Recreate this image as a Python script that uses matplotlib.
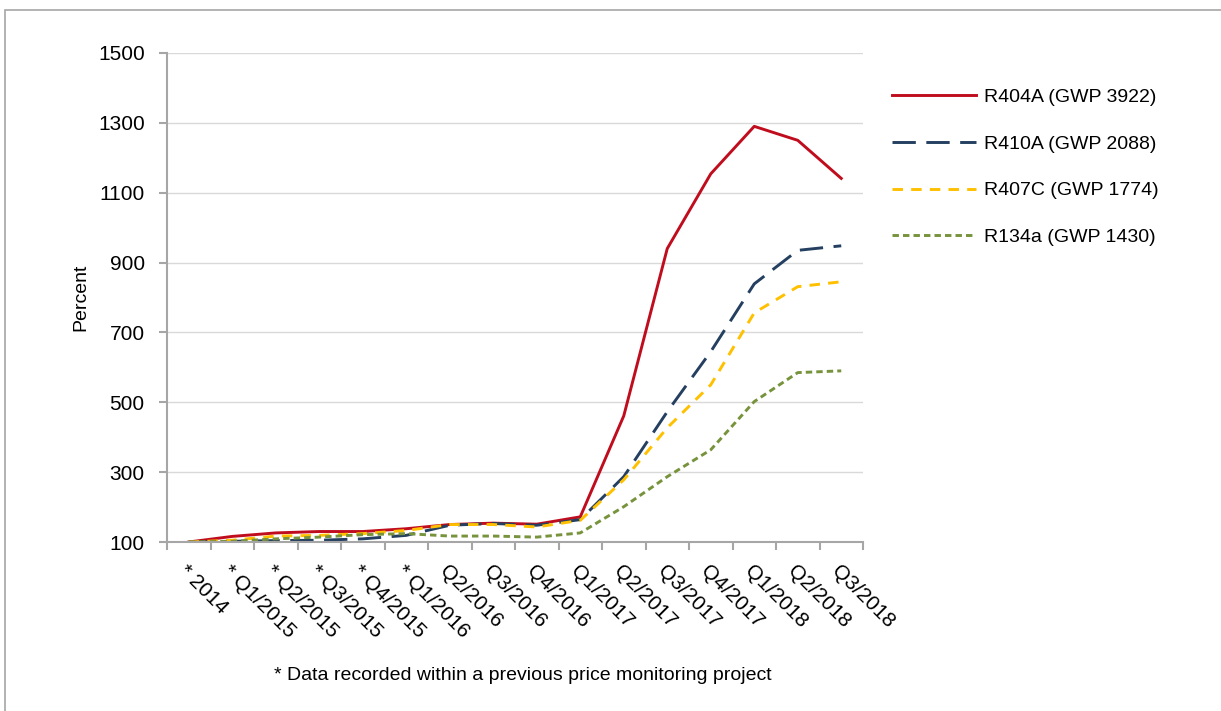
import matplotlib.pyplot as plt
from matplotlib.patches import Rectangle

plt.rcParams['font.family'] = ['Liberation Sans', 'DejaVu Sans']

quarters = ['* 2014', '* Q1/2015', '* Q2/2015', '* Q3/2015', '* Q4/2015', '* Q1/2016',
            'Q2/2016', 'Q3/2016', 'Q4/2016', 'Q1/2017', 'Q2/2017', 'Q3/2017',
            'Q4/2017', 'Q1/2018', 'Q2/2018', 'Q3/2018']
r404a = [100, 116, 126, 130, 130, 138, 150, 154, 151, 172, 461, 940, 1154, 1290, 1250, 1141]
r410a = [100, 102, 104, 105, 109, 119, 148, 153, 148, 164, 287, 473, 645, 839, 935, 948]
r407c = [100, 105, 117, 119, 124, 133, 150, 150, 143, 162, 278, 427, 550, 756, 831, 845]
r134a = [100, 102, 109, 114, 121, 124, 117, 117, 114, 126, 201, 287, 364, 502, 585, 590]
labels = ['R404A (GWP 3922)', 'R410A (GWP 2088)', 'R407C (GWP 1774)', 'R134a (GWP 1430)']

fs = 14

fig = plt.figure(figsize=(12.21, 7.11), dpi=100)
fig.patches.append(Rectangle((5/1221, -0.1), 1.2, 1 - 10/711 + 0.1, transform=fig.transFigure,
                             fill=False, edgecolor='#a6a6a6', linewidth=1.2))
ax = fig.add_axes([167/1221, 1 - 542/711, 696/1221, 489/711])

x = range(len(quarters))
ax.plot(x, r404a, color='#c00d1e', linewidth=2.1, label=labels[0])
ax.plot(x, r410a, color='#243f60', linewidth=2.1, dashes=(8, 3.6), label=labels[1])
ax.plot(x, r407c, color='#ffc000', linewidth=2.1, dashes=(3.6, 2.8), label=labels[2])
ax.plot(x, r134a, color='#77933c', linewidth=2.1, dashes=(2.2, 1.4), label=labels[3])

ax.set_xlim(-0.5, len(quarters) - 0.5)
ax.set_ylim(100, 1500)
ax.set_yticks(range(100, 1501, 200))
ax.set_xticks([i - 0.5 for i in range(len(quarters) + 1)])
ax.set_xticklabels([])
ax.set_xticks(list(x), minor=True)
ax.set_xticklabels(quarters, minor=True, rotation=-45, ha='left', va='top',
                   rotation_mode='anchor', fontsize=fs + 1)
ax.tick_params(axis='x', which='minor', length=0, pad=14)
ax.tick_params(axis='x', which='major', length=6, color='#a6a6a6', width=1.5)
ax.tick_params(axis='y', length=6, color='#a6a6a6', width=1.5, labelsize=fs + 1, pad=10)
ax.grid(axis='y', color='#d9d9d9', linewidth=1)
ax.set_axisbelow(True)
for s in ['top', 'right']:
    ax.spines[s].set_visible(False)
for s in ['left', 'bottom']:
    ax.spines[s].set_color('#a6a6a6')
    ax.spines[s].set_linewidth(1.5)
ax.set_ylabel('Percent', fontsize=fs, labelpad=6)

ax.legend(loc='upper left', bbox_to_anchor=(1.042, 0.928), frameon=False, fontsize=fs,
          handlelength=4.3, labelspacing=1.5, handletextpad=0.4,
          borderpad=0, borderaxespad=0)

fig.text(523/1221, 1 - 675/711, '* Data recorded within a previous price monitoring project',
         ha='center', va='center', fontsize=fs)

fig.savefig('out.png', dpi=100)
